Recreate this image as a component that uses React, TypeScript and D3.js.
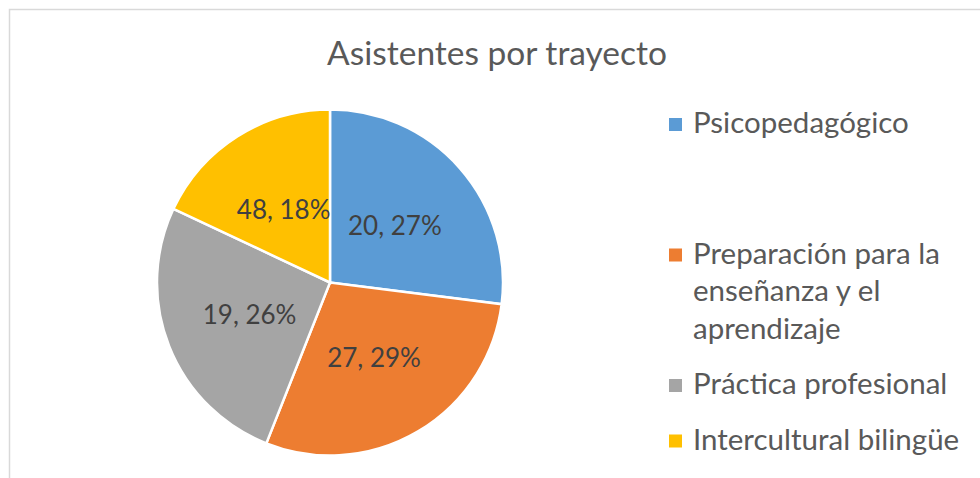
import * as d3 from "d3";

const WIDTH = 980;
const HEIGHT = 478;

const categories = [
  "Psicopedagógico",
  "Preparación para la enseñanza y el aprendizaje",
  "Práctica profesional",
  "Intercultural bilingüe",
];
// legend text as it wraps in the original
const legendLines = [
  ["Psicopedagógico"],
  ["Preparación para la", "enseñanza y el", "aprendizaje"],
  ["Práctica profesional"],
  ["Intercultural bilingüe"],
];
const counts = [20, 27, 19, 48];
const percents = [27, 29, 26, 18];
const colors = ["#5B9BD5", "#ED7D31", "#A5A5A5", "#FFC000"];

// vertical room each legend entry takes (in lines)
const ROW_LINES = [3, 3, 1, 1];

const FONT = "Lato, 'Open Sans', sans-serif";
const CENTER = { x: 330, y: 282.5 };
const RADIUS = 173;
const LEGEND = { x: 669, y: 133, lineHeight: 37.5, gap: 18, box: 13 };

type Slice = { name: string; count: number; pct: number; color: string };

export default function App() {
  const data: Slice[] = categories.map((name, i) => ({
    name,
    count: counts[i],
    pct: percents[i],
    color: colors[i],
  }));

  const pie = d3
    .pie<Slice>()
    .sort(null)
    .value((d) => d.pct);
  const arcs = pie(data);

  const arc = d3.arc<d3.PieArcDatum<Slice>>().innerRadius(0).outerRadius(RADIUS);
  const labelArc = d3
    .arc<d3.PieArcDatum<Slice>>()
    .innerRadius(0)
    .outerRadius(RADIUS);

  // legend rows stacked by line count
  let acc = 0;
  const legendY = ROW_LINES.map((n) => {
    const y = LEGEND.y + acc;
    acc += n * LEGEND.lineHeight + LEGEND.gap;
    return y;
  });

  return (
    <svg
      width={WIDTH}
      height={HEIGHT}
      style={{ position: "absolute", left: 0, top: 0, background: "#fff" }}
      fontFamily={FONT}
    >
      <rect
        x={9.5}
        y={9.5}
        width={WIDTH + 20}
        height={HEIGHT + 20}
        fill="#fff"
        stroke="#d9d9d9"
        strokeWidth={1.5}
      />
      <text
        x={497}
        y={65}
        textAnchor="middle"
        fontSize={33.5}
        fill="#595959"
      >
        Asistentes por trayecto
      </text>

      <g transform={`translate(${CENTER.x},${CENTER.y})`}>
        {arcs.map((a, i) => (
          <path key={i} d={arc(a) || ""} fill={a.data.color} stroke="#fff" strokeWidth={2.5} />
        ))}
        {arcs.map((a, i) => {
          const [cx, cy] = labelArc.centroid(a);
          return (
            <text
              key={i}
              x={cx}
              y={cy}
              textAnchor="middle"
              dominantBaseline="central"
              fontSize={26}
              fill="#404040"
            >
              {`${a.data.count}, ${a.data.pct}%`}
            </text>
          );
        })}
      </g>

      <g>
        {legendLines.map((lines, i) => (
          <g key={i}>
            <rect
              x={LEGEND.x}
              y={legendY[i] - 15}
              width={LEGEND.box}
              height={LEGEND.box}
              fill={colors[i]}
            />
            <text x={LEGEND.x + 24} y={legendY[i]} fontSize={29.5} fill="#595959">
              {lines.map((l, j) => (
                <tspan key={j} x={LEGEND.x + 24} dy={j === 0 ? 0 : LEGEND.lineHeight}>
                  {l}
                </tspan>
              ))}
            </text>
          </g>
        ))}
      </g>
    </svg>
  );
}
